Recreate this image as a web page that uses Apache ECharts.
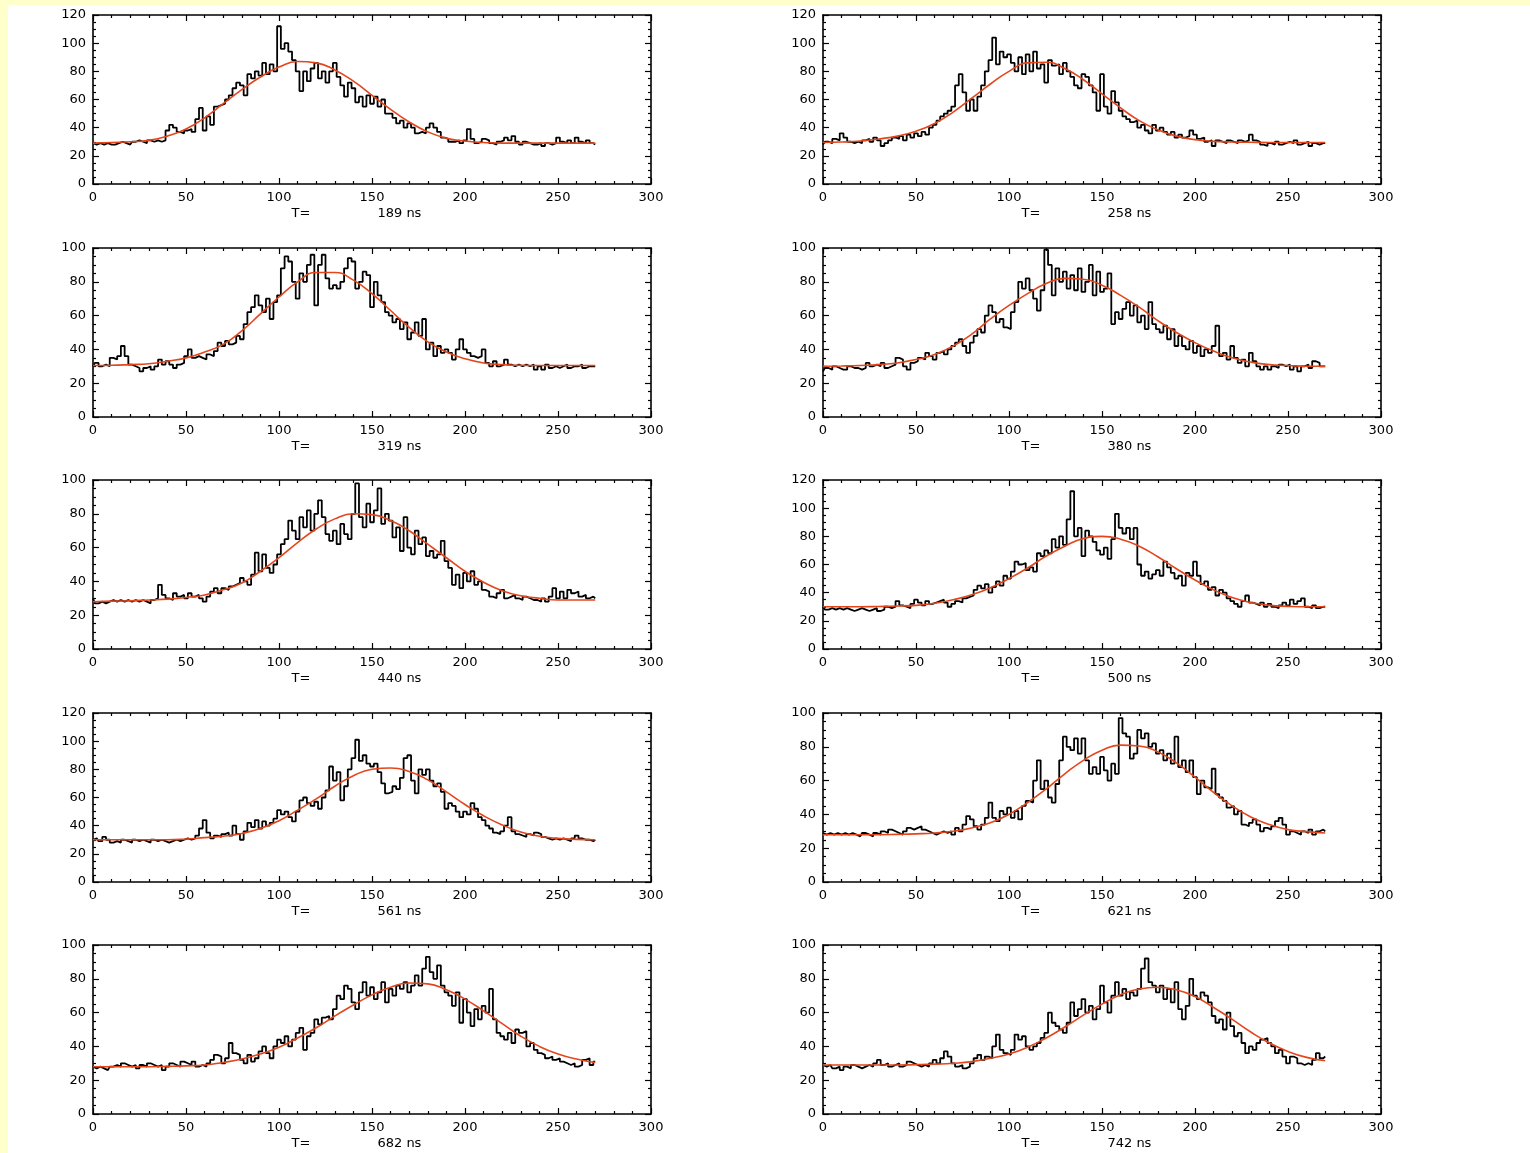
<!DOCTYPE html>
<html>
<head>
<meta charset="utf-8">
<script src="https://cdn.jsdelivr.net/npm/echarts/dist/echarts.min.js"></script>
<style>
  html, body { margin: 0; padding: 0; }
  #bg { position: absolute; left: 0; top: 0; width: 1530px; height: 1153px; background: #ffffcc; }
  #paper { position: absolute; left: 8px; top: 5px; width: 1522px; height: 1148px; background: #ffffff; }
  #chart { position: absolute; left: 0; top: 0; width: 1530px; height: 1153px; }
</style>
</head>
<body>
<div id="bg"></div>
<div id="paper"></div>
<div id="chart"></div>
<script>
// ---------- data ----------
const panelTimes = [189, 258, 319, 380, 440, 500, 561, 621, 682, 742];
const panelYMax  = [120, 120, 100, 100, 100, 120, 120, 100, 100, 100];
const xTicks = [0, 50, 100, 150, 200, 250, 300];
const binWidth = 2;    // ns per histogram bin (bins start at 0)
const fitStep = 10;    // ns between read-off fit points

const counts189 = [29,28,29,28,29,28,28,29,30,29, 28,30,31,30,29,31,30,31,30,31,
  38,42,40,37,36,38,39,37,46,54, 38,48,42,55,56,57,60,63,68,72,
  70,63,78,75,80,77,86,78,85,80, 112,96,100,94,88,80,66,80,73,82,
  86,75,80,72,80,86,76,70,62,72, 68,58,62,55,63,57,62,55,60,50,
  50,47,43,45,40,43,40,36,37,36, 40,43,40,37,33,32,30,30,31,29,
  31,39,32,29,30,32,31,29,28,30, 31,33,31,34,30,28,30,29,28,28,
  29,27,29,28,29,33,30,29,31,29, 33,30,29,31,29,28];
const fit189 = [29,29.5,30,31,34,39,47,57,67,76,83,87,86,81,73,63,53,44,37,32.5,30.5,29.5,29,29,29,29,29,29];

const counts258 = [28,30,29,32,31,36,33,30,29,30, 29,31,32,30,33,31,27,29,31,33,
  32,34,31,35,33,36,34,37,35,40, 42,45,48,50,52,55,70,78,65,52,
  60,52,62,70,80,88,104,85,94,90, 92,86,80,90,78,92,80,94,82,85,
  72,88,84,85,78,86,80,76,70,68, 78,76,70,65,52,78,55,50,66,58,
  52,48,46,44,45,40,42,38,36,42, 38,40,37,35,37,33,35,33,34,38,
  35,32,33,30,31,27,31,30,29,31, 30,29,31,30,31,35,31,30,28,27,
  29,28,30,28,29,30,29,31,28,29, 30,27,29,28,29,29];
const fit258 = [29.5,29.8,30.5,32,34,37.5,43,51,61,71,80,86,86.5,82,74,64,54,45,38.5,34,31.5,30.3,29.8,29.6,29.5,29.5,29.5,29.5];

const counts319 = [30,32,30,31,30,35,34,36,42,36, 31,30,29,27,29,30,28,30,34,31,
  33,31,29,31,32,36,40,35,36,35, 34,37,36,39,44,42,45,43,44,48,
  46,55,62,65,72,66,62,70,58,68, 72,88,95,92,80,70,85,80,90,96,
  66,90,96,82,76,78,76,80,88,94, 92,76,80,86,84,65,80,72,68,62,
  60,56,58,52,56,46,50,56,48,58, 40,44,36,42,38,40,38,34,40,46,
  40,38,36,35,36,40,32,30,33,30, 31,34,31,30,31,30,31,30,31,28,
  30,28,31,29,30,29,30,31,29,30, 30,31,29,30,30,30];
const fit319 = [30.5,30.6,31,31.5,33,35,38.5,43,51,61,71,80,85.5,85.5,81,73,63,53,44.5,38.5,34.5,32,31,30.6,30.5,30.5,30.5,30.5];

const counts380 = [27,29,28,30,29,28,28,30,29,29, 28,29,32,30,31,30,32,29,30,31,
  35,34,30,28,32,33,35,34,38,36, 34,38,39,37,40,42,44,46,42,38,
  44,48,52,50,60,66,62,56,58,53, 52,62,68,80,76,82,75,70,63,75,
  99,90,72,88,80,86,76,84,75,88, 74,80,90,72,86,74,76,85,55,62,
  58,64,68,60,66,56,60,52,68,55, 52,50,54,46,52,42,48,42,40,45,
  38,42,36,40,38,42,54,36,38,34, 42,35,32,34,30,38,33,30,28,30,
  28,30,29,31,30,31,28,30,27,30, 31,29,33,32,30,30];
const fit380 = [30,30.2,30.5,31,32,34,37,42,49,58,66,73,79,82,81.5,78,72,65,57,50,44,39,35,32.5,31,30.5,30,30];

const counts440 = [30,27,28,27,28,29,28,29,28,29, 28,29,28,29,28,27,29,30,38,32,
  30,29,33,31,32,30,33,31,32,30, 28,31,34,36,33,36,35,37,38,39,
  42,40,38,44,57,46,56,48,45,50, 56,62,65,76,70,65,78,72,82,70,
  80,88,78,68,64,70,62,74,68,65, 80,98,78,72,86,75,82,95,74,80,
  76,66,72,58,78,60,56,70,62,66, 55,58,54,56,64,52,48,38,44,36,
  45,40,46,38,40,35,34,31,30,33, 35,30,31,32,30,29,31,30,29,29,
  28,30,28,31,36,30,34,30,35,33, 34,31,32,30,31,30];
const fit440 = [28,28.3,28.5,29,29.5,30.5,32,35,39,46,54,63,71,77,80,79.5,76,70,62,54,46,39.5,34.5,31.5,30,29,29,29];

const counts500 = [30,28,29,28,29,28,29,28,27,28, 29,28,27,28,29,27,28,30,29,30,
  34,31,30,29,32,35,33,31,34,32, 33,34,35,33,30,32,34,33,36,37,
  38,42,45,43,46,40,44,48,45,52, 50,55,62,60,61,56,58,55,68,66,
  70,68,78,72,80,74,92,112,80,86, 66,84,80,76,70,67,72,64,78,96,
  86,82,86,78,86,60,52,55,50,53, 56,52,62,58,54,50,52,45,54,52,
  62,52,46,48,42,44,38,42,40,36, 34,32,30,34,38,33,32,31,33,30,
  32,30,29,31,33,31,35,32,34,36, 30,29,31,29,30,30];
const fit500 = [30,30,30,30.2,30.5,31,32.5,35,38.5,43.5,50,57.5,66,73,78.5,80,78,73,65.5,57,49,42,36.5,33,31,30.3,30,30];

const counts561 = [30,31,29,32,30,28,29,28,30,29, 28,30,29,30,29,28,30,29,30,29,
  28,29,30,29,30,31,30,31,33,38, 44,35,31,33,32,34,35,33,40,34,
  30,36,42,39,44,38,43,40,42,45, 51,48,50,46,43,50,58,60,56,54,
  57,52,60,65,82,72,78,58,68,80, 88,101,86,90,84,82,84,78,70,63,
  64,68,66,74,88,90,72,63,80,76, 80,72,68,70,64,52,56,54,50,46,
  50,48,56,52,46,44,40,38,35,34, 36,40,46,36,34,33,32,34,33,35,
  34,32,31,30,31,30,31,30,29,31, 33,31,30,30,29,30];
const fit561 = [30,30,30,30,30,30.5,31.5,32.5,34.5,38,43.5,51,59,68,75.5,80,81,78.5,72.5,64,55,47,40.5,35.5,32.5,31,30.3,30];

const counts621 = [29,28,29,28,29,28,29,28,29,28, 27,29,28,27,29,28,30,29,31,30,
  29,28,30,32,31,32,33,31,30,29, 28,29,30,29,30,28,32,30,34,39,
  37,33,31,34,38,47,38,36,42,40, 44,38,42,37,45,48,47,60,72,55,
  60,50,47,58,72,86,80,78,85,76, 85,72,64,68,64,74,66,60,70,64,
  97,88,86,73,76,90,85,88,80,82, 76,78,72,76,70,86,68,72,65,72,
  62,52,60,56,55,67,52,50,48,44, 45,40,42,34,33,35,37,34,30,32,
  31,33,36,38,34,28,30,29,28,30, 29,31,28,30,31,30];
const fit621 = [28,28,28,28,28.2,28.5,29,30,32,35,40,47,55,64,72,78,81,80.5,77,70.5,62,53,45,38.5,34,31,29.8,29];

const counts682 = [28,27,28,27,26,28,29,28,30,29, 28,29,27,29,28,30,29,28,29,26,
  28,30,29,28,31,30,29,31,28,29, 28,30,32,35,34,30,33,42,36,35,
  32,30,35,31,33,37,40,36,33,40, 44,42,46,40,44,48,51,38,46,48,
  56,53,57,58,56,62,70,68,76,74, 66,62,72,78,70,75,68,72,78,66,
  74,70,76,74,78,72,76,82,76,86, 93,84,80,88,76,72,70,64,72,54,
  68,60,52,62,56,64,60,74,56,48, 46,44,48,42,50,48,49,40,42,38,
  36,35,33,34,32,33,31,30,29,30, 28,29,32,33,29,31];
const fit682 = [28,28,28,28,28.2,28.5,29,30.5,32.5,35.5,39.5,45,51,58,64.5,70.5,75,77.5,77,73.5,68,61,53.5,46,40,35.5,32.5,30.5];

const counts742 = [29,28,29,27,28,26,28,27,29,28, 27,28,29,28,30,32,29,30,28,29,
  30,28,29,31,30,29,28,29,28,30, 32,30,33,37,34,30,28,29,27,28,
  30,33,35,32,34,33,40,47,38,36, 35,38,47,44,46,40,38,40,42,45,
  48,60,54,52,50,48,54,66,58,62, 68,60,64,56,62,76,66,60,70,78,
  70,74,68,72,70,74,86,92,78,76, 72,76,68,74,66,78,62,56,64,80,
  70,68,72,70,66,58,54,56,50,60, 52,46,48,42,36,40,38,42,44,45,
  42,40,36,38,34,30,34,33,30,29, 30,29,32,36,33,34];
const fit742 = [29,29,29,29,29,29.2,29.5,30,31,33,35.5,39.5,45,51.5,58.5,65,70.5,74,75,73.5,69.5,63,56,48.5,42,37,33.5,31.5];

const panelCounts = [counts189, counts258, counts319, counts380, counts440, counts500, counts561, counts621, counts682, counts742];
const panelFits   = [fit189, fit258, fit319, fit380, fit440, fit500, fit561, fit621, fit682, fit742];

// ---------- layout ----------
const colLeft = [93, 823];
const gridW = 558;
const rowTop = [15, 248, 480, 713, 945];
const gridH = 169;
const FONT = 'DejaVu Sans';
const BLACK = '#000000';
const RED = '#e4461c';

const grids = [], xAxes = [], yAxes = [], series = [];

panelTimes.forEach((t, g) => {
  const col = g % 2, row = Math.floor(g / 2);
  grids.push({ left: colLeft[col], top: rowTop[row], width: gridW, height: gridH, show: false });

  const tickCommon = { show: true, inside: true, length: 6, lineStyle: { color: BLACK, width: 1.2 } };
  const minorX = { show: true, splitNumber: 5, length: 3, lineStyle: { color: BLACK, width: 1.2 } };
  const minorY = { show: true, splitNumber: 4, length: 3, lineStyle: { color: BLACK, width: 1.2 } };
  const lineCommon = { show: true, onZero: false, lineStyle: { color: BLACK, width: 1.6 } };

  xAxes.push({
    type: 'value', gridIndex: g, position: 'bottom', min: xTicks[0], max: xTicks[xTicks.length - 1],
    interval: xTicks[1] - xTicks[0],
    axisLine: lineCommon, axisTick: tickCommon, minorTick: minorX, splitLine: { show: false },
    axisLabel: { color: BLACK, fontFamily: FONT, fontSize: 13, margin: 7 },
    name: '{a|T=}{b|' + t + ' ns}', nameLocation: 'middle', nameGap: 23,
    nameTextStyle: {
      rich: {
        a: { color: BLACK, fontFamily: FONT, fontSize: 13, padding: [0, 67, 0, 0] },
        b: { color: BLACK, fontFamily: FONT, fontSize: 13, padding: [0, 31, 0, 0] }
      }
    }
  });
  xAxes.push({
    type: 'value', gridIndex: g, position: 'top', min: xTicks[0], max: xTicks[xTicks.length - 1],
    interval: xTicks[1] - xTicks[0],
    axisLine: lineCommon, axisTick: tickCommon, minorTick: minorX, splitLine: { show: false },
    axisLabel: { show: false }
  });
  yAxes.push({
    type: 'value', gridIndex: g, position: 'left', min: 0, max: panelYMax[g], interval: 20,
    axisLine: lineCommon, axisTick: tickCommon, minorTick: minorY, splitLine: { show: false },
    axisLabel: { color: BLACK, fontFamily: FONT, fontSize: 13, margin: 7 }
  });
  yAxes.push({
    type: 'value', gridIndex: g, position: 'right', min: 0, max: panelYMax[g], interval: 20,
    axisLine: lineCommon, axisTick: tickCommon, minorTick: minorY, splitLine: { show: false },
    axisLabel: { show: false }
  });

  series.push({
    type: 'line', xAxisIndex: 2 * g, yAxisIndex: 2 * g, step: 'middle', symbol: 'none',
    lineStyle: { color: BLACK, width: 1.8 },
    data: panelCounts[g].map((v, i) => [i * binWidth, v]),
    z: 2
  });
  series.push({
    type: 'line', xAxisIndex: 2 * g, yAxisIndex: 2 * g, smooth: true, symbol: 'none',
    lineStyle: { color: RED, width: 1.6 },
    data: panelFits[g].map((v, i) => [i * fitStep, v]),
    z: 3
  });
});

const chart = echarts.init(document.getElementById('chart'), null, { renderer: 'canvas' });
chart.setOption({
  backgroundColor: 'transparent',
  animation: false,
  grid: grids,
  xAxis: xAxes,
  yAxis: yAxes,
  series: series
});
</script>
</body>
</html>
